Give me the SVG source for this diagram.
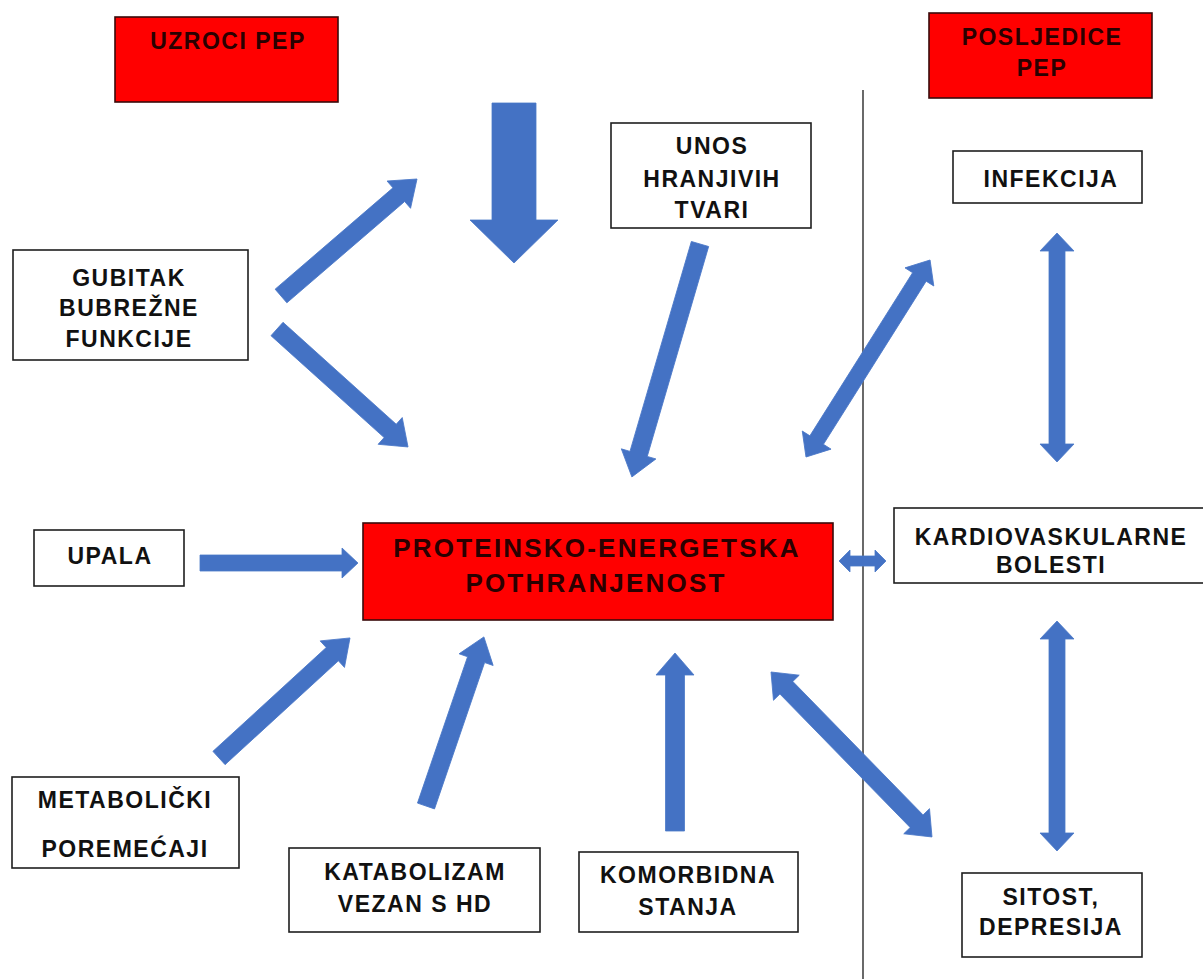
<svg xmlns="http://www.w3.org/2000/svg" width="1203" height="979" viewBox="0 0 1203 979">
<style>
.box{fill:#ffffff;stroke:#1e1e1e;stroke-width:1.6}
.red{fill:#ff0000;stroke:#3a0a0a;stroke-width:1.6}
.t{font-family:"Liberation Sans",Arial,sans-serif;font-weight:bold;font-size:23px;letter-spacing:1.5px;fill:#111111;text-anchor:middle}
.tr{fill:#2a0000}
.big{font-size:26px;letter-spacing:2.2px}
.arr{fill:#4472c4;stroke:#4a78c8;stroke-width:0.8;stroke-linejoin:miter}
.sep{stroke:#444444;stroke-width:1.6;fill:none}
</style>
<rect width="1203" height="979" fill="#ffffff"/>
<line class="sep" x1="863" y1="90" x2="863" y2="979"/>

<g id="uzroci">
<rect class="red" x="115" y="17" width="223" height="85"/>
<text class="t tr"><tspan x="228" y="49">UZROCI PEP</tspan></text>
</g>
<g id="posljedice">
<rect class="red" x="929" y="13" width="223" height="85"/>
<text class="t tr"><tspan x="1042" y="45">POSLJEDICE</tspan><tspan x="1042" y="76">PEP</tspan></text>
</g>
<g id="unos">
<rect class="box" x="611" y="123" width="200" height="105"/>
<text class="t"><tspan x="712" y="154">UNOS</tspan><tspan x="712" y="187">HRANJIVIH</tspan><tspan x="712" y="218">TVARI</tspan></text>
</g>
<g id="infekcija">
<rect class="box" x="953" y="151" width="189" height="52"/>
<text class="t"><tspan x="1051" y="187">INFEKCIJA</tspan></text>
</g>
<g id="gubitak">
<rect class="box" x="13" y="250" width="235" height="110"/>
<text class="t"><tspan x="129" y="286">GUBITAK</tspan><tspan x="129" y="316">BUBREŽNE</tspan><tspan x="129" y="347">FUNKCIJE</tspan></text>
</g>
<g id="upala">
<rect class="box" x="34" y="530" width="150" height="56"/>
<text class="t"><tspan x="110" y="564">UPALA</tspan></text>
</g>
<g id="pep">
<rect class="red" x="363" y="523" width="470" height="97"/>
<text class="t tr big"><tspan x="597" y="557">PROTEINSKO-ENERGETSKA</tspan><tspan x="596" y="592">POTHRANJENOST</tspan></text>
</g>
<g id="kardio">
<rect class="box" x="894" y="508" width="312" height="75"/>
<text class="t"><tspan x="1051" y="545">KARDIOVASKULARNE</tspan><tspan x="1051" y="573">BOLESTI</tspan></text>
</g>
<g id="metabolicki">
<rect class="box" x="12" y="777" width="227" height="91"/>
<text class="t"><tspan x="125" y="808">METABOLIČKI</tspan><tspan x="125" y="857">POREMEĆAJI</tspan></text>
</g>
<g id="katabolizam">
<rect class="box" x="289" y="848" width="251" height="84"/>
<text class="t"><tspan x="415" y="880">KATABOLIZAM</tspan><tspan x="415" y="912">VEZAN S HD</tspan></text>
</g>
<g id="komorbidna">
<rect class="box" x="579" y="852" width="219" height="80"/>
<text class="t"><tspan x="688" y="883">KOMORBIDNA</tspan><tspan x="688" y="915">STANJA</tspan></text>
</g>
<g id="sitost">
<rect class="box" x="962" y="873" width="180" height="84"/>
<text class="t"><tspan x="1051" y="905">SITOST,</tspan><tspan x="1051" y="935">DEPRESIJA</tspan></text>
</g>

<g id="connectors">
<polygon class="arr" transform="translate(514,103) rotate(90)" points="0,-22 117,-22 117,-44 160,0 117,44 117,22 0,22"/>
<polygon class="arr" transform="translate(281,296) rotate(-40.7)" points="0,-9 155.4,-9 155.4,-18 179.4,0 155.4,18 155.4,9 0,9"/>
<polygon class="arr" transform="translate(277,329) rotate(42)" points="0,-9 152.3,-9 152.3,-18 176.3,0 152.3,18 152.3,9 0,9"/>
<polygon class="arr" transform="translate(700,244) rotate(106.3)" points="0,-9 218.7,-9 218.7,-18 242.7,0 218.7,18 218.7,9 0,9"/>
<polygon class="arr" transform="translate(806,457) rotate(-57.8)" points="0,0 20,-17 20,-8 212.8,-8 212.8,-17 232.8,0 212.8,17 212.8,8 20,8 20,17"/>
<polygon class="arr" transform="translate(1057,233) rotate(90)" points="0,0 18,-17 18,-8 211,-8 211,-17 229,0 211,17 211,8 18,8 18,17"/>
<polygon class="arr" transform="translate(1057,621) rotate(90)" points="0,0 18,-17 18,-8 212,-8 212,-17 230,0 212,17 212,8 18,8 18,17"/>
<polygon class="arr" transform="translate(839,561)" points="0,0 11,-11 11,-5 36,-5 36,-11 47,0 36,11 36,5 11,5 11,11"/>
<polygon class="arr" transform="translate(771,672) rotate(45.7)" points="0,0 22,-18 22,-9 208.5,-9 208.5,-18 230.5,0 208.5,18 208.5,9 22,9 22,18"/>
<polygon class="arr" transform="translate(675,831) rotate(-90)" points="0,-9.5 156,-9.5 156,-19 178,0 156,19 156,9.5 0,9.5"/>
<polygon class="arr" transform="translate(426,806) rotate(-71.1)" points="0,-9 154.7,-9 154.7,-18 178.7,0 154.7,18 154.7,9 0,9"/>
<polygon class="arr" transform="translate(219,758) rotate(-42.5)" points="0,-9 153.7,-9 153.7,-18 177.7,0 153.7,18 153.7,9 0,9"/>
<polygon class="arr" transform="translate(200,563)" points="0,-8 142,-8 142,-15 158,0 142,15 142,8 0,8"/>
</g>
</svg>
